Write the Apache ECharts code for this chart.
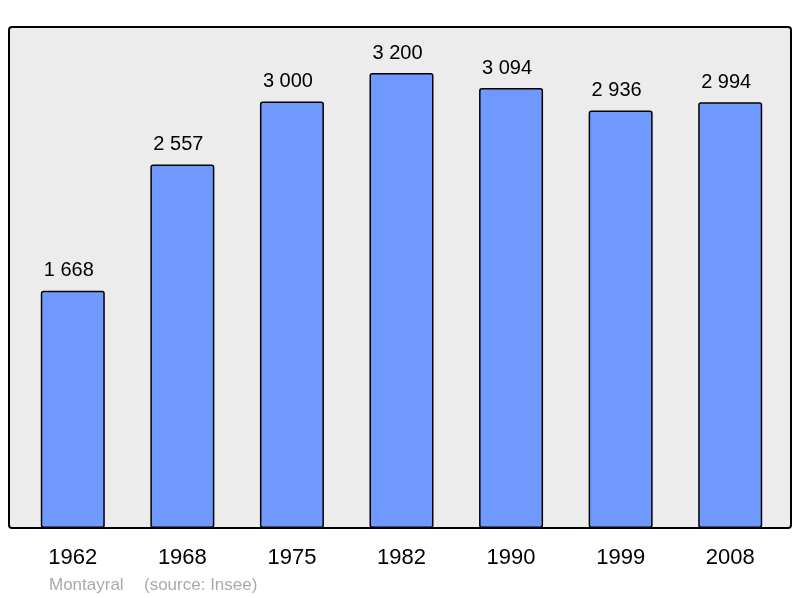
<!DOCTYPE html>
<html>
<head>
<meta charset="utf-8">
<script src="https://cdn.jsdelivr.net/npm/echarts@6/dist/echarts.min.js"></script>
<style>
  html, body { margin: 0; padding: 0; background: #fff; }
  #chart { width: 800px; height: 598px; }
</style>
</head>
<body>
<div id="chart"></div>
<script>
// données de population
const years = ['1962', '1968', '1975', '1982', '1990', '1999', '2008'];
const population = [1668, 2557, 3000, 3200, 3094, 2936, 2994];

const chart = echarts.init(document.getElementById('chart'));

// séparateur des milliers avec espace
function fmt(v) {
  return String(v).replace(/\B(?=(\d{3})+(?!\d))/g, ' ');
}

const font = 'Liberation Sans, Arial, sans-serif';

chart.setOption({
  backgroundColor: '#fff',
  animation: false,
  textStyle: { fontFamily: font },
  graphic: [
    {
      // fond du cadre
      type: 'rect',
      z: -10,
      shape: { x: 9, y: 27, width: 782, height: 501, r: 3 },
      style: { fill: '#ececec', stroke: '#000', lineWidth: 2 }
    },
    {
      type: 'text',
      left: 49,
      top: 577,
      style: { text: 'Montayral', fill: '#aaaaaa', fontSize: 17, fontFamily: font }
    },
    {
      type: 'text',
      left: 144,
      top: 577,
      style: { text: '(source: Insee)', fill: '#aaaaaa', fontSize: 17, fontFamily: font }
    }
  ],
  grid: {
    left: 18,
    right: 15,
    top: 73,
    bottom: 70
  },
  xAxis: {
    type: 'category',
    data: years,
    axisLine: { show: false },
    axisTick: { show: false },
    axisLabel: {
      margin: 19,
      fontSize: 22,
      color: '#000'
    }
  },
  yAxis: {
    type: 'value',
    min: 0,
    max: 3200,
    show: false,
    splitLine: { show: false }
  },
  series: [
    {
      type: 'bar',
      data: population,
      barWidth: 64,
      itemStyle: {
        color: '#7099ff',
        borderColor: '#000',
        borderWidth: 1.5,
        borderRadius: 2
      },
      label: {
        show: true,
        position: 'top',
        distance: 10,
        offset: [-4, 0],
        fontSize: 20,
        color: '#000',
        formatter: p => fmt(p.value)
      }
    }
  ]
});
</script>
</body>
</html>
